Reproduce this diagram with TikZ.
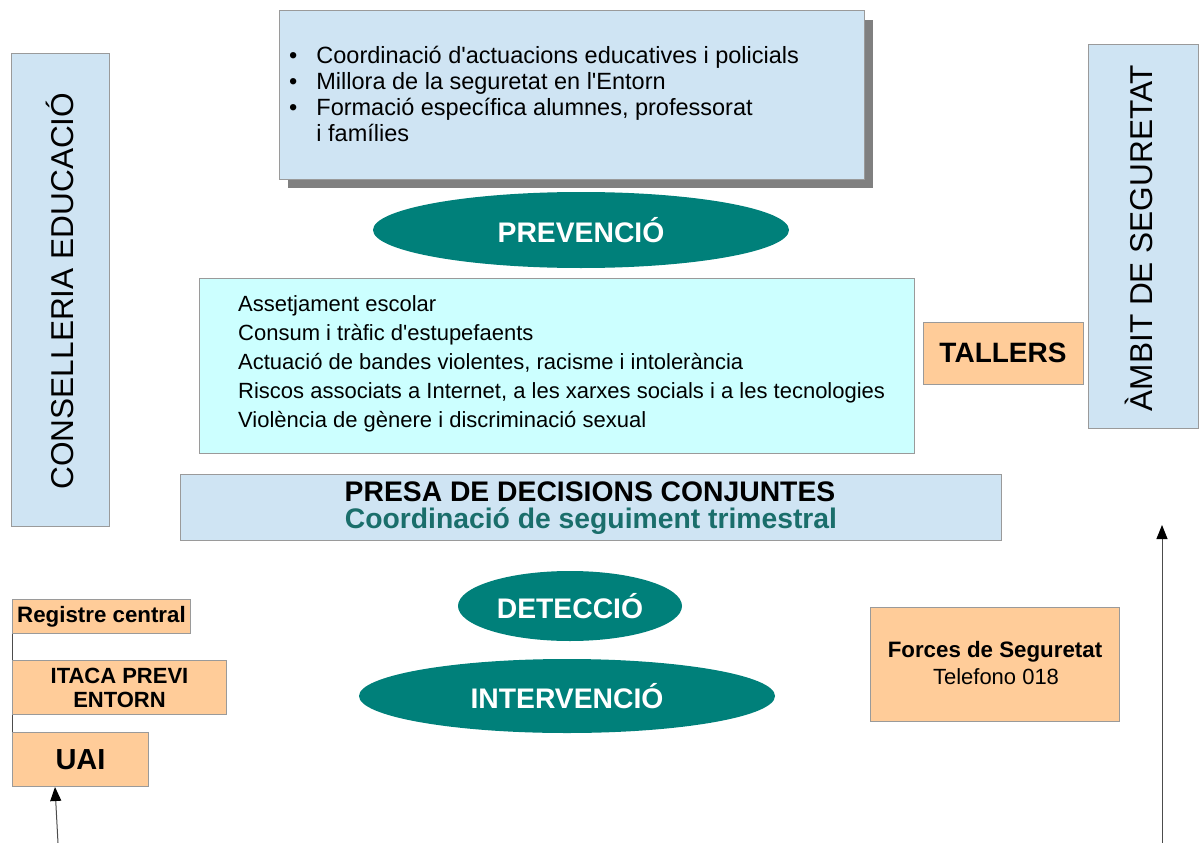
\documentclass[tikz,border=0pt]{standalone}
\usepackage{fontspec}
\setmainfont{Liberation Sans}[Ligatures=TeXOff]
\usetikzlibrary{arrows.meta,shapes.geometric}
\definecolor{lblue}{HTML}{CFE4F3}
\definecolor{lcyan}{HTML}{CCFFFF}
\definecolor{orng}{HTML}{FFCC99}
\definecolor{teal1}{HTML}{00807A}
\definecolor{teal2}{HTML}{1A6E6B}
\definecolor{bord}{HTML}{9A9A9A}
\definecolor{shad}{HTML}{808080}
\tikzset{
  box/.style={draw=bord, line width=1pt},
  oval/.style={ellipse, fill=teal1, text=white, font=\fontsize{28.3}{32}\selectfont\bfseries, inner sep=0pt},
  conn/.style={draw=black!70, line width=1pt},
  uparrow/.style={draw=black!70, line width=1pt, -{Triangle[length=14pt,width=11pt,color=black,fill=black]}},
}
\begin{document}
\begin{tikzpicture}[x=1pt,y=-1pt]
\useasboundingbox (0,0) rectangle (1199,843);
% top box with shadow
\fill[shad] (288,20) rectangle (873,188);
\draw[box, fill=lblue] (279,11) rectangle (864,179);
\node[anchor=north west, align=left, inner sep=0pt, font=\fontsize{23.5}{26}\selectfont] (topt) at (289,46)
 {\textbullet\hspace{19pt}Coordinació d'actuacions educatives i policials\\
  \textbullet\hspace{19pt}Millora de la seguretat en l'Entorn\\
  \textbullet\hspace{19pt}Formació específica alumnes, professorat\\
  \hphantom{\textbullet}\hspace{19pt}i famílies};
% prevencio
\node[oval, minimum width=416pt, minimum height=76pt] (prev) at (581,230) {PREVENCIÓ};
% middle cyan box
\draw[box, fill=lcyan] (199,278) rectangle (914,453);
\node[anchor=north west, align=left, inner sep=0pt, font=\fontsize{22}{29}\selectfont] (mid) at (238,295)
 {Assetjament escolar\\
  Consum i tràfic d'estupefaents\\
  Actuació de bandes violentes, racisme i intolerància\\
  Riscos associats a Internet, a les xarxes socials i a les tecnologies\\
  Violència de gènere i discriminació sexual};
% tallers
\node[box, fill=orng, minimum width=160pt, minimum height=62pt, font=\fontsize{28}{32}\selectfont\bfseries] (tall) at (1003,353) {TALLERS};
% side boxes
\node[box, fill=lblue, minimum width=98pt, minimum height=472pt] (cons) at (60,290) {};
\node[rotate=90, font=\fontsize{31.6}{36}\selectfont] (conslbl) at (60,291) {CONSELLERIA EDUCACIÓ};
\node[box, fill=lblue, minimum width=110pt, minimum height=383pt] (ambit) at (1143,236.5) {};
\node[rotate=90, font=\fontsize{31.6}{36}\selectfont] (ambitlbl) at (1139,238) {ÀMBIT DE SEGURETAT};
% presa
\node[box, fill=lblue, minimum width=821pt, minimum height=66pt] (presa) at (590.5,507) {};
\node[font=\fontsize{28.3}{32}\selectfont\bfseries] (presa1) at (590,492) {PRESA DE DECISIONS CONJUNTES};
\node[font=\fontsize{28.3}{32}\selectfont\bfseries, text=teal2] (presa2) at (591,521) {Coordinació de seguiment trimestral};
% detect / interv
\node[oval, minimum width=224pt, minimum height=70pt] (det) at (570,606) {DETECCIÓ};
\node[oval, minimum width=416pt, minimum height=74pt] (int) at (567,696) {INTERVENCIÓ};
% left stack
\node[box, fill=orng, anchor=north west, minimum width=178pt, minimum height=34pt, inner sep=0pt, font=\fontsize{22.3}{24}\selectfont\bfseries] (reg) at (12,599) {Registre central};
\node[box, fill=orng, anchor=north west, minimum width=214pt, minimum height=54pt, inner sep=0pt, align=center, font=\fontsize{22}{24}\selectfont\bfseries] (itaca) at (12,660) {ITACA PREVI\\ENTORN};
\node[box, fill=orng, anchor=north west, minimum width=136pt, minimum height=54pt, inner sep=0pt, font=\fontsize{29}{32}\selectfont\bfseries] (uai) at (12,732) {UAI};
\draw[conn] (reg.south west) -- (itaca.north west);
\draw[conn] (itaca.south west) -- (uai.north west);
\coordinate (uaiin) at (58,843);
\draw[uparrow] (uaiin) -- (uai.south -| 55,0);
% forces
\node[box, fill=orng, minimum width=249pt, minimum height=114pt] (forc) at (994.5,664) {};
\node[font=\fontsize{22.3}{25}\selectfont\bfseries] (forc1) at (995,652) {Forces de Seguretat};
\node[font=\fontsize{22}{25}\selectfont] (forc2) at (996,677) {Telefono 018};
\coordinate (ambin) at (1162,843);
\draw[uparrow] (ambin) -- (1162,525);
\end{tikzpicture}
\end{document}
